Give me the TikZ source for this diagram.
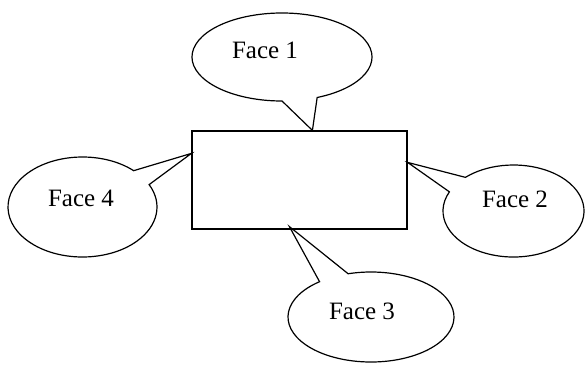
\documentclass[tikz,border=0pt]{standalone}
\usepackage{fontspec}
\setmainfont{Liberation Serif}
\usetikzlibrary{calc}
\begin{document}
\begin{tikzpicture}[x=1pt,y=1pt,
  outline/.style={draw=black,line width=1.2pt,line join=miter},
  facetext/.style={font=\fontsize{25}{29}\selectfont,inner sep=0pt}]
\useasboundingbox (0,0) rectangle (585,-364);
% central box
\node[outline,rectangle,minimum width=215pt,minimum height=98pt,inner sep=0pt] (box) at (299.5,-180) {};
% tips on the box border
\coordinate (tip1) at ($(box.north west)+(121,0)$);
\coordinate (tip4) at ($(box.north west)+(0,-23)$);
\coordinate (tip2) at ($(box.north east)+(0,-32)$);
\coordinate (tip3) at ($(box.south west)+(98,3)$);
% Face 1 callout
\coordinate (c1) at (282,-57);
\draw[outline] (c1) ++(293:90 and 44) arc[start angle=293,end angle=630,x radius=90,y radius=44] -- (tip1) -- cycle;
% Face 4 callout
\coordinate (c4) at (82.5,-207);
\draw[outline] (c4) ++(46.6:74.5 and 50) arc[start angle=46.6,end angle=386.6,x radius=74.5,y radius=50] -- (tip4) -- cycle;
% Face 2 callout
\coordinate (c2) at (513.5,-211);
\draw[outline] (c2) ++(155.4:70.5 and 46) arc[start angle=155.4,end angle=493,x radius=70.5,y radius=46] -- (tip2) -- cycle;
% Face 3 callout
\coordinate (c3) at (371,-317);
\draw[outline] (c3) ++(128.3:83 and 45) arc[start angle=128.3,end angle=466,x radius=83,y radius=45] -- (tip3) -- cycle;
% labels
\node[facetext] (t1) at (265,-50) {Face 1};
\node[facetext] (t4) at (81,-198) {Face 4};
\node[facetext] (t2) at (515,-199) {Face 2};
\node[facetext] (t3) at (362,-311) {Face 3};
\end{tikzpicture}
\end{document}
